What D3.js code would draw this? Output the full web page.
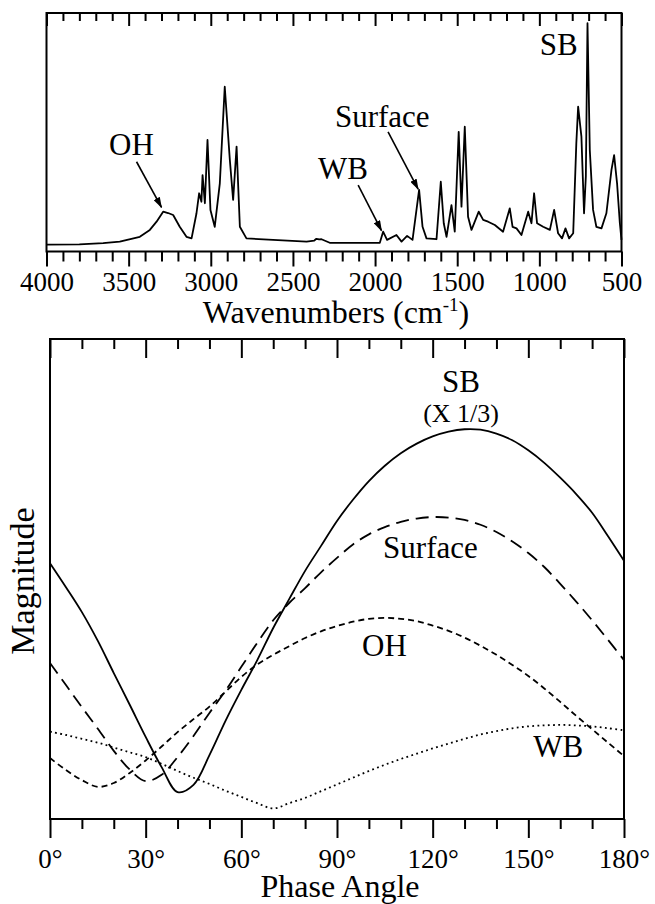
<!DOCTYPE html>
<html>
<head>
<meta charset="utf-8">
<script src="https://cdn.jsdelivr.net/npm/d3@7"></script>
<style>
body { margin: 0; background: #fff; }
text { font-family: "Liberation Serif", "Times New Roman", serif; fill: #000; }
</style>
</head>
<body>
<div id="chart"></div>
<script>
// IR spectrum: wavenumber (cm-1) and absorbance
const wavenumbers = [4000, 3800, 3655, 3554, 3432, 3371, 3330, 3290, 3260, 3229, 3189, 3148, 3117,
  3087, 3071, 3057, 3050, 3036, 3020, 3002, 2976, 2945, 2915, 2884, 2864, 2843, 2823, 2783,
  2621, 2417, 2370, 2357, 2340, 2326, 2276, 1971, 1951, 1927, 1870, 1839, 1805, 1772, 1732,
  1711, 1687, 1626, 1600, 1582, 1565, 1535, 1515, 1491, 1474, 1454, 1434, 1413, 1369, 1342,
  1312, 1271, 1221, 1180, 1163, 1139, 1109, 1068, 1048, 1032, 1014, 977, 936, 910, 886, 862,
  841, 819, 794, 775, 764, 744, 728, 717, 707, 693, 673, 653, 622, 592, 561, 545, 527, 510, 500];
const absorbance = [0.002, 0.003, 0.008, 0.015, 0.037, 0.068, 0.105, 0.150, 0.144, 0.135, 0.082, 0.037, 0.030,
  0.143, 0.233, 0.195, 0.315, 0.188, 0.473, 0.158, 0.082, 0.278, 0.713, 0.383, 0.203, 0.443, 0.082, 0.030,
  0.023, 0.015, 0.020, 0.028, 0.025, 0.026, 0.010, 0.010, 0.060, 0.023, 0.045, 0.015, 0.041, 0.023, 0.248,
  0.082, 0.030, 0.026, 0.285, 0.098, 0.037, 0.180, 0.060, 0.510, 0.173, 0.533, 0.127, 0.068, 0.150, 0.113,
  0.105, 0.090, 0.060, 0.165, 0.082, 0.075, 0.045, 0.150, 0.098, 0.233, 0.098, 0.082, 0.068, 0.158, 0.053, 0.030,
  0.075, 0.030, 0.053, 0.458, 0.623, 0.488, 0.143, 0.310, 0.999, 0.428, 0.158, 0.082, 0.075, 0.143, 0.338, 0.405, 0.278, 0.098, 0.023];
const wnMajorTicks = [4000, 3500, 3000, 2500, 2000, 1500, 1000, 500];

// phase-resolved magnitudes (arbitrary units), every 5 degrees
const phaseAngles = [0, 5, 10, 15, 20, 25, 30, 35, 40, 45, 50, 55, 60, 65, 70, 75, 80, 85, 90,
  95, 100, 105, 110, 115, 120, 125, 130, 135, 140, 145, 150, 155, 160, 165, 170, 175, 180];
const sbMagnitude = [53.3, 48.3, 43.1, 37.1, 30.4, 23.8, 17.1, 10.8, 5.6, 7.1, 13.3, 20.4, 26.9, 33.1, 39.8, 45.8, 51.7, 56.9, 62.1,
  66.5, 70.4, 73.6, 76.2, 78.2, 79.7, 80.7, 81.2, 81.1, 80.3, 78.9, 76.8, 74.2, 71.1, 67.7, 63.8, 58.9, 53.8];
const surfaceMagnitude = [32.5, 27.9, 23.3, 18.8, 14.2, 10.3, 7.9, 9.2, 12.9, 17.3, 22.1, 26.7, 31.7, 36.7, 41.4, 45.0, 48.1, 51.4, 54.4,
  57.2, 59.3, 60.8, 61.9, 62.6, 62.9, 62.8, 62.3, 61.3, 59.8, 57.8, 55.4, 52.5, 49.0, 45.3, 41.4, 37.3, 33.1];
const ohMagnitude = [12.7, 10.2, 8.1, 6.7, 7.5, 9.6, 12.2, 15.1, 18.1, 20.8, 23.4, 26.5, 29.6, 32.2, 34.2, 36.0, 37.7, 39.1, 40.2,
  41.1, 41.7, 41.9, 41.7, 41.2, 40.3, 39.2, 37.8, 36.1, 34.2, 32.1, 29.8, 27.2, 24.4, 21.5, 18.7, 15.9, 13.1];
const wbMagnitude = [18.2, 17.5, 16.7, 15.9, 14.9, 13.9, 12.9, 11.5, 10.0, 8.6, 7.3, 5.9, 4.6, 3.3, 2.2, 3.3, 4.4, 5.8, 7.2,
  8.6, 10.0, 11.3, 12.5, 13.6, 14.7, 15.7, 16.7, 17.6, 18.3, 18.9, 19.3, 19.5, 19.6, 19.5, 19.3, 18.9, 18.5];
const phaseMajorTicks = [0, 30, 60, 90, 120, 150, 180];

const width = 655, height = 904;
const fontTick = 27, fontTitle = 32, fontNote = 31;

const svg = d3.select("#chart")
  .append("svg")
  .attr("width", width)
  .attr("height", height);

svg.append("defs").append("marker")
  .attr("id", "arrow")
  .attr("markerUnits", "userSpaceOnUse")
  .attr("markerWidth", 11).attr("markerHeight", 7)
  .attr("refX", 10).attr("refY", 3.5)
  .attr("orient", "auto")
  .append("path")
  .attr("d", "M0,0L11,3.5L0,7Z")
  .attr("fill", "#000");

function drawTicks(g, axis, values, size, labels, pad) {
  g.call(axis.tickValues(values).tickSize(size).tickPadding(pad || 0)
    .tickFormat(labels ? labels : () => ""));
  g.select(".domain").remove();
  g.selectAll(".tick line").attr("stroke", "#000").attr("stroke-width", 2);
  g.selectAll(".tick text").attr("font-size", fontTick)
    .attr("font-family", "Liberation Serif, Times New Roman, serif");
}

// ---------- top panel: spectrum ----------
const specBox = {left: 46.5, right: 621.5, top: 13, bottom: 251.5};

const xWn = d3.scaleLinear()
  .domain([4000, 500])
  .range([specBox.left, specBox.right]);
const yAbs = d3.scaleLinear()
  .domain([0, 1])
  .range([245, 23]);

const wnMinor = [];
for (let v = 500; v <= 4000; v += 100) if (v % 500 !== 0) wnMinor.push(v);

drawTicks(svg.append("g").attr("transform", `translate(0,${specBox.bottom})`),
  d3.axisBottom(xWn), wnMinor, 10);
drawTicks(svg.append("g").attr("transform", `translate(0,${specBox.bottom})`),
  d3.axisBottom(xWn), wnMajorTicks, 15, d => d, 5);
drawTicks(svg.append("g").attr("transform", `translate(0,${specBox.top})`),
  d3.axisTop(xWn), wnMinor, -8);
drawTicks(svg.append("g").attr("transform", `translate(0,${specBox.top})`),
  d3.axisTop(xWn), wnMajorTicks, -13);

svg.append("rect")
  .attr("x", specBox.left).attr("y", specBox.top)
  .attr("width", specBox.right - specBox.left).attr("height", specBox.bottom - specBox.top)
  .attr("fill", "none").attr("stroke", "#000").attr("stroke-width", 2);

const spectrum = wavenumbers.map((w, i) => ({wn: w, a: absorbance[i]}));
svg.append("path")
  .datum(spectrum)
  .attr("fill", "none")
  .attr("stroke", "#000")
  .attr("stroke-width", 1.8)
  .attr("stroke-linejoin", "round")
  .attr("d", d3.line().x(d => xWn(d.wn)).y(d => yAbs(d.a)));

const xTitle = svg.append("text")
  .attr("x", (specBox.left + specBox.right) / 2 + 2)
  .attr("y", 323)
  .attr("text-anchor", "middle")
  .attr("font-size", fontTitle);
xTitle.append("tspan").text("Wavenumbers (cm");
xTitle.append("tspan").attr("dy", -12).attr("font-size", 19).text("-1");
xTitle.append("tspan").attr("dy", 12).text(")");

// peak labels with arrows
const spectrumNotes = [
  {label: "OH", tx: 3483, ty: 0.405, from: [3452, 0.375], to: [3300, 0.170]},
  {label: "WB", tx: 2196, ty: 0.297, from: [2103, 0.27], to: [1961, 0.065]},
  {label: "Surface", tx: 1956, ty: 0.533, from: [1921, 0.51], to: [1738, 0.252]},
  {label: "SB", tx: 882, ty: 0.856}
];
spectrumNotes.forEach(n => {
  svg.append("text")
    .attr("x", xWn(n.tx)).attr("y", yAbs(n.ty))
    .attr("text-anchor", "middle")
    .attr("font-size", fontNote)
    .text(n.label);
  if (n.from) {
    svg.append("line")
      .attr("x1", xWn(n.from[0])).attr("y1", yAbs(n.from[1]))
      .attr("x2", xWn(n.to[0])).attr("y2", yAbs(n.to[1]))
      .attr("stroke", "#000").attr("stroke-width", 1.6)
      .attr("marker-end", "url(#arrow)");
  }
});

// ---------- bottom panel: phase angle ----------
const phaseBox = {left: 50, right: 624, top: 339, bottom: 819};

const xPhase = d3.scaleLinear()
  .domain([0, 180])
  .range([phaseBox.left, phaseBox.right]);
const yMag = d3.scaleLinear()
  .domain([0, 100])
  .range([phaseBox.bottom, phaseBox.top]);

const phaseMinor = [10, 20, 40, 50, 70, 80, 100, 110, 130, 140, 160, 170];

drawTicks(svg.append("g").attr("transform", `translate(0,${phaseBox.bottom})`),
  d3.axisBottom(xPhase), phaseMinor, 10);
drawTicks(svg.append("g").attr("transform", `translate(0,${phaseBox.bottom})`),
  d3.axisBottom(xPhase), phaseMajorTicks, 19, d => d + "\u00b0", 11);
drawTicks(svg.append("g").attr("transform", `translate(0,${phaseBox.top})`),
  d3.axisTop(xPhase), phaseMinor, -10);
drawTicks(svg.append("g").attr("transform", `translate(0,${phaseBox.top})`),
  d3.axisTop(xPhase), phaseMajorTicks, -19);

svg.append("rect")
  .attr("x", phaseBox.left).attr("y", phaseBox.top)
  .attr("width", phaseBox.right - phaseBox.left).attr("height", phaseBox.bottom - phaseBox.top)
  .attr("fill", "none").attr("stroke", "#000").attr("stroke-width", 2);

const series = [
  {name: "SB", values: sbMagnitude, dash: null},
  {name: "Surface", values: surfaceMagnitude, dash: "13,7"},
  {name: "OH", values: ohMagnitude, dash: "6,4"},
  {name: "WB", values: wbMagnitude, dash: "1.8,3.4"}
];

const phaseLine = d3.line()
  .x(d => xPhase(d.angle))
  .y(d => yMag(d.value))
  .curve(d3.curveCatmullRom);

series.forEach(s => {
  svg.append("path")
    .datum(phaseAngles.map((a, i) => ({angle: a, value: s.values[i]})))
    .attr("fill", "none")
    .attr("stroke", "#000")
    .attr("stroke-width", 1.8)
    .attr("stroke-dasharray", s.dash)
    .attr("d", phaseLine);
});

const phaseNotes = [
  {label: "SB", x: 128.9, y: 89.0, size: fontNote},
  {label: "(X 1/3)", x: 128.9, y: 82.7, size: 26},
  {label: "Surface", x: 119.3, y: 54.4, size: fontNote},
  {label: "OH", x: 104.9, y: 34.0, size: fontNote},
  {label: "WB", x: 159.4, y: 12.9, size: fontNote}
];
phaseNotes.forEach(n => {
  svg.append("text")
    .attr("x", xPhase(n.x)).attr("y", yMag(n.y))
    .attr("text-anchor", "middle")
    .attr("font-size", n.size)
    .text(n.label);
});

svg.append("text")
  .attr("x", (phaseBox.left + phaseBox.right) / 2 + 3)
  .attr("y", 897)
  .attr("text-anchor", "middle")
  .attr("font-size", fontTitle)
  .text("Phase Angle");

svg.append("text")
  .attr("transform", "translate(34,581) rotate(-90)")
  .attr("text-anchor", "middle")
  .attr("font-size", 34)
  .text("Magnitude");
</script>
</body>
</html>
